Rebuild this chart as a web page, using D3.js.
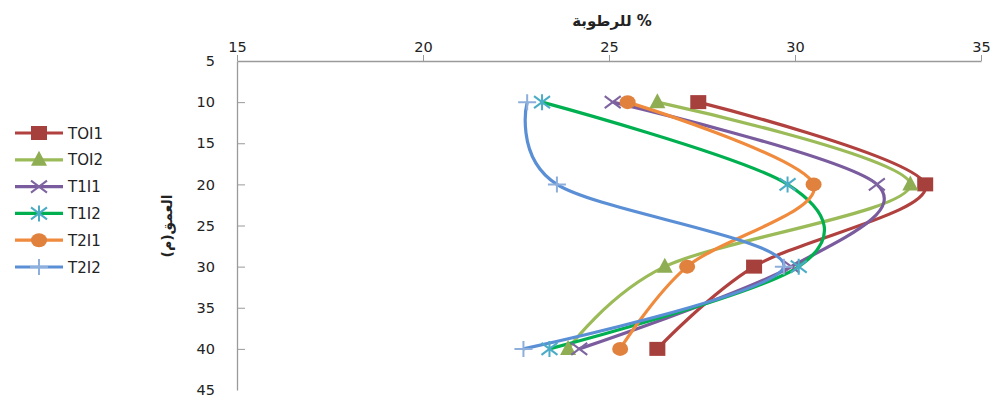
<!DOCTYPE html>
<html>
<head>
  <meta charset="UTF-8">
  <style>
    body { margin: 0; padding: 0; background: #fff; }
    svg { display: block; }
    .tick text { font-family: "DejaVu Sans", Verdana, sans-serif; font-size: 14.5px; fill: #222; }
    .legend text { font-family: "DejaVu Sans", Verdana, sans-serif; font-size: 15px; fill: #222; }
  </style>
</head>
<body>
  <svg width="993" height="398"></svg>
  <script src="https://d3js.org/d3.v7.min.js"></script>
  <script>
    // depth (m) and moisture (%) per treatment
    const depths = [10, 20, 30, 40];
    const seriesNames = ["TOI1", "TOI2", "T1I1", "T1I2", "T2I1", "T2I2"];
    const T0I1 = [27.4, 33.5, 28.9, 26.3];
    const T0I2 = [26.3, 33.1, 26.5, 23.9];
    const T1I1 = [25.1, 32.2, 29.9, 24.2];
    const T1I2 = [23.2, 29.8, 30.1, 23.4];
    const T2I1 = [25.5, 30.5, 27.1, 25.3];
    const T2I2 = [22.8, 23.6, 29.7, 22.7];
    const xTicks = [15, 20, 25, 30, 35];
    const yTicks = [5, 10, 15, 20, 25, 30, 35, 40, 45];

    const seriesValues = [T0I1, T0I2, T1I1, T1I2, T2I1, T2I2];
    const lineColors = ["#B0413E", "#9BBB59", "#7A5C9E", "#00B050", "#F08A3C", "#5A8FD6"];
    const markColors = ["#A5403D", "#8FAE53", "#7E64A0", "#4BACC6", "#E0823D", "#8EAEDB"];
    const markTypes = ["square", "triangle", "x", "star", "circle", "plus"];

    const svg = d3.select("svg");
    const x = d3.scaleLinear().domain([15, 35]).range([237, 981]);
    const y = d3.scaleLinear().domain([5, 45]).range([61, 390]);

    // top x axis
    const xAxis = svg.append("g")
        .attr("transform", `translate(0,${y(5)})`)
        .call(d3.axisTop(x).tickValues(xTicks).tickSizeInner(6).tickSizeOuter(0).tickPadding(4));
    xAxis.select(".domain").attr("stroke", "#9a9a9a").attr("stroke-width", 1.3);
    xAxis.selectAll(".tick line").attr("stroke", "#9a9a9a");
    xAxis.selectAll(".tick text").attr("dy", "0.1em");

    // left y axis, ticks pointing inward
    const yAxis = svg.append("g")
        .attr("transform", `translate(${x(15)},0)`)
        .call(d3.axisLeft(y).tickValues(yTicks).tickSizeInner(0).tickSizeOuter(0).tickPadding(22));
    yAxis.select(".domain").attr("stroke", "#9a9a9a").attr("stroke-width", 1.3);
    yAxis.selectAll(".tick line").attr("x2", 8).attr("stroke", "#9a9a9a");
    yAxis.selectAll(".tick").filter(d => d === 5 || d === 45).select("line").remove();

    // titles
    svg.append("text")
        .attr("x", 612).attr("y", 26)
        .attr("text-anchor", "middle")
        .attr("font-family", "'DejaVu Sans', sans-serif")
        .attr("font-weight", "bold").attr("font-size", 15)
        .attr("fill", "#222")
        .text("للرطوبة %");

    svg.append("text")
        .attr("transform", "translate(172,226) rotate(-90)")
        .attr("text-anchor", "middle")
        .attr("font-family", "'DejaVu Sans', sans-serif")
        .attr("font-weight", "bold").attr("font-size", 14)
        .attr("fill", "#222")
        .text("العمق(م)");

    const line = d3.line()
        .x(d => x(d[0]))
        .y(d => y(d[1]))
        .curve(d3.curveCatmullRom.alpha(0));

    function drawMarker(g, type, color) {
      if (type === "square") {
        g.append("rect").attr("x", -8).attr("y", -7).attr("width", 16).attr("height", 14).attr("fill", color);
      } else if (type === "triangle") {
        g.append("path").attr("d", "M0,-9L8,6L-8,6Z").attr("fill", color);
      } else if (type === "circle") {
        g.append("ellipse").attr("rx", 8).attr("ry", 7).attr("fill", color);
      } else if (type === "x") {
        g.append("path").attr("d", "M-8,-6L8,6M-8,6L8,-6").attr("stroke", color).attr("stroke-width", 2).attr("fill", "none");
      } else if (type === "star") {
        g.append("path").attr("d", "M-8,-6L8,6M-8,6L8,-6M0,-8L0,8").attr("stroke", color).attr("stroke-width", 2).attr("fill", "none");
      } else if (type === "plus") {
        g.append("path").attr("d", "M-9,0L9,0M0,-8L0,8").attr("stroke", color).attr("stroke-width", 2).attr("fill", "none");
      }
    }

    seriesValues.forEach((vals, i) => {
      const pts = vals.map((v, j) => [v, depths[j]]);
      svg.append("path")
          .datum(pts)
          .attr("d", line)
          .attr("fill", "none")
          .attr("stroke", lineColors[i])
          .attr("stroke-width", 3.2);
    });

    seriesValues.forEach((vals, i) => {
      vals.forEach((v, j) => {
        const g = svg.append("g").attr("transform", `translate(${x(v)},${y(depths[j])})`);
        drawMarker(g, markTypes[i], markColors[i]);
      });
    });

    // legend
    const legend = svg.append("g").attr("class", "legend");
    seriesNames.forEach((name, i) => {
      const ly = 133 + i * 26.8;
      const g = legend.append("g").attr("transform", `translate(0,${ly})`);
      g.append("line").attr("x1", 15).attr("x2", 63).attr("stroke", lineColors[i]).attr("stroke-width", 3.2);
      const m = g.append("g").attr("transform", "translate(39,0)");
      drawMarker(m, markTypes[i], markColors[i]);
      g.append("text").attr("x", 68).attr("y", 5.5).text(name);
    });
  </script>
</body>
</html>
